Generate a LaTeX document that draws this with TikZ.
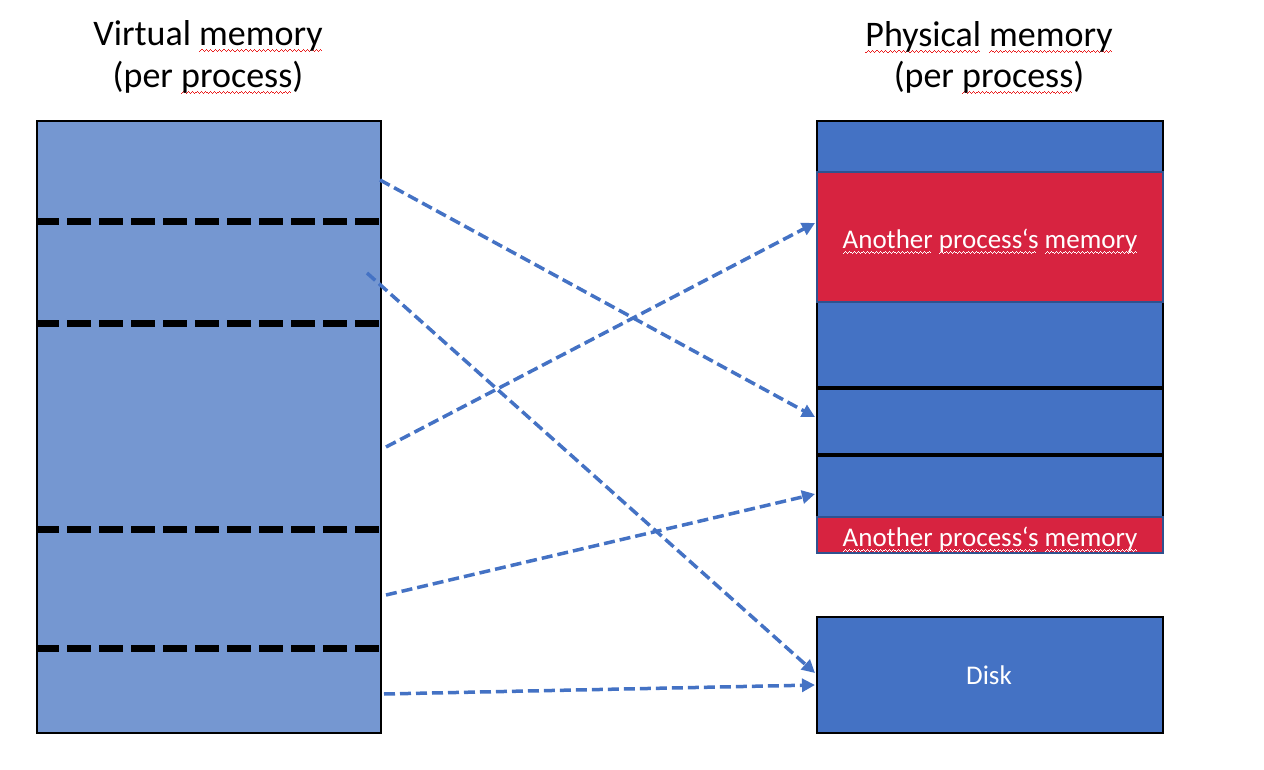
\documentclass[tikz,border=0pt]{standalone}
\usepackage{fontspec}
\setmainfont{Carlito}
\usetikzlibrary{arrows.meta}
\definecolor{virt}{RGB}{117,151,209}
\definecolor{phys}{RGB}{68,114,196}
\definecolor{procred}{RGB}{215,35,64}
\definecolor{edgeblue}{RGB}{47,82,143}
\definecolor{sqred}{RGB}{235,30,30}
\newsavebox\sqbox
\newcommand\wavebit{\hbox{\rule[0pt]{1.1pt}{1.2pt}\rule[0.8pt]{1.1pt}{1.2pt}\rule[1.6pt]{1.1pt}{1.2pt}\rule[0.8pt]{1.1pt}{1.2pt}}}
\newcommand\sqw[2]{\sbox\sqbox{#2}\rlap{\lower6pt\hbox to\wd\sqbox{\color{#1}\leaders\wavebit\hfill}}\usebox\sqbox}
\tikzset{
  title/.style={anchor=base, inner sep=0pt, font=\fontsize{36}{43}\selectfont, text=black},
  inner/.style={anchor=base, inner sep=0pt, font=\fontsize{27}{32}\selectfont, text=white},
  seg/.style={black, line width=7pt, dash pattern=on 24pt off 8pt, dash phase=2pt},
  sep/.style={black, line width=4pt},
  map/.style={draw=phys, line width=3.5pt, dash pattern=on 11pt off 5pt,
    -{Triangle[length=13pt,width=13pt]}},
}
\begin{document}
\begin{tikzpicture}[x=1pt,y=-1pt]
\useasboundingbox (0,0) rectangle (1264,770);
% titles
\node[title] (vt1) at (208,46) {Virtual \sqw{sqred}{memory}};
\node[title] (vt2) at (208,88) {(per \sqw{sqred}{process})};
\node[title] (pt1) at (989,47) {\sqw{sqred}{Physical} \sqw{sqred}{memory}};
\node[title] (pt2) at (989,88) {(per \sqw{sqred}{process})};
% virtual memory box
\draw[fill=virt, line width=2pt] (37,121) rectangle (381,733);
\foreach \yy in {222,323,529,648}
  \draw[seg] (37,\yy) -- (381,\yy);
% physical memory box
\draw[fill=phys, line width=2pt] (817,121) rectangle (1163,553);
\draw[fill=procred, draw=edgeblue, line width=1.5pt] (817,172) rectangle (1163,302);
\draw[fill=procred, draw=edgeblue, line width=1.5pt] (817,517) rectangle (1163,553);
\draw[sep] (817,388) -- (1162,388);
\draw[sep] (817,455) -- (1162,455);
\node[inner] (o1) at (990,248) {\sqw{white}{Another} \sqw{white}{process‘s} \sqw{white}{memory}};
\node[inner] (o2) at (990,546) {\sqw{white}{Another} \sqw{white}{process‘s} \sqw{white}{memory}};
% disk
\draw[fill=phys, line width=2pt] (817,617) rectangle (1163,733);
\node[inner, anchor=center] (disk) at (989,675) {Disk};
% mapping coordinates
\coordinate (s1) at (380,180);
\coordinate (s2) at (367,273);
\coordinate (s3) at (386,447);
\coordinate (s4) at (386,595);
\coordinate (s5) at (384,694);
\coordinate (e1) at (815,417);
\coordinate (e2) at (815,673);
\coordinate (e3) at (815,223);
\coordinate (e4) at (815,494);
\coordinate (e5) at (815,685);
\draw[map] (s1) -- (e1);
\draw[map] (s2) -- (e2);
\draw[map] (s3) -- (e3);
\draw[map] (s4) -- (e4);
\draw[map] (s5) -- (e5);
\end{tikzpicture}
\end{document}
